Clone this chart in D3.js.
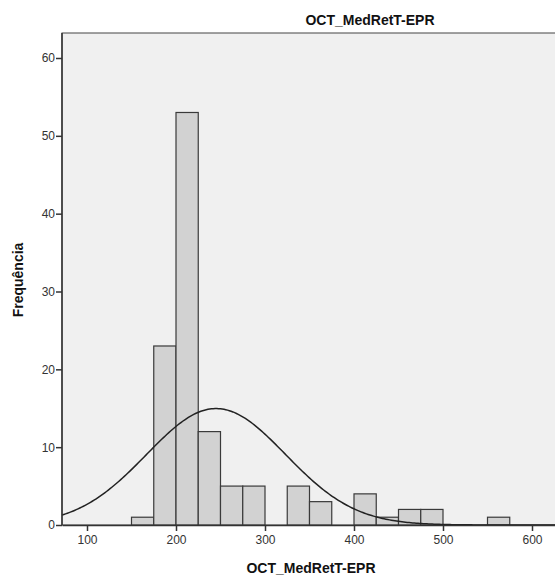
<!DOCTYPE html>
<html><head><meta charset="utf-8">
<script src="https://cdn.jsdelivr.net/npm/d3@7"></script>
<style>body{margin:0;background:#fff;}svg{display:block;font-family:Arial,"Liberation Sans",sans-serif;}</style>
</head><body>
<svg id="c" width="555" height="581"></svg>
<script>
const binStarts = [150,175,200,225,250,275,300,325,350,375,400,425,450,475,500,525,550];
const binCounts = [1,23,53,12,5,5,0,5,3,0,4,1,2,2,0,0,1];
const binWidth = 25;
const xTicks = [100,200,300,400,500,600];
const yTicks = [0,10,20,30,40,50,60];
const normalMean = 245;
const normalSD = 78;
const titleText = "OCT_MedRetT-EPR";
const xLabel = "OCT_MedRetT-EPR";
const yLabel = "Frequência";

const svg = d3.select("#c");
const L = 62, T = 33, R = 680, B = 525;
const x0 = d3.scaleLinear().domain([100,600]).range([87,532]);
const x = d3.scaleLinear().domain([x0.invert(L), x0.invert(R)]).range([L,R]);
const y = d3.scaleLinear().domain([0,60]).range([B,58]);

svg.append("rect").attr("x",L).attr("y",T).attr("width",R-L).attr("height",B-T)
  .attr("fill","#f0f0f0").attr("stroke","#444").attr("stroke-width",1);

const N = d3.sum(binCounts);
svg.append("g").selectAll("rect").data(binStarts.map((s,i)=>({s,c:binCounts[i]})).filter(d=>d.c>0))
  .join("rect")
  .attr("x",d=>x(d.s)).attr("width",d=>x(d.s+binWidth)-x(d.s))
  .attr("y",d=>y(d.c)).attr("height",d=>y(0)-y(d.c))
  .attr("fill","#d2d2d2").attr("stroke","#3a3a3a").attr("stroke-width",1.2);

const xs = d3.range(x.domain()[0], x.domain()[1], 2);
const pdf = v => N*binWidth/(normalSD*Math.sqrt(2*Math.PI))*Math.exp(-0.5*((v-normalMean)/normalSD)**2);
svg.append("path").datum(xs).attr("fill","none").attr("stroke","#222").attr("stroke-width",1.5)
  .attr("d", d3.line().x(d=>x(d)).y(d=>y(pdf(d))));

const xa = svg.append("g").attr("transform",`translate(0,${B})`)
  .call(d3.axisBottom(x).tickValues(xTicks).tickSizeInner(6).tickSizeOuter(0).tickPadding(4));
const ya = svg.append("g").attr("transform",`translate(${L},0)`)
  .call(d3.axisLeft(y).tickValues(yTicks).tickSizeInner(6).tickSizeOuter(0).tickPadding(1));
ya.select(".domain").attr("d",`M0,${T}V${B}`);
[xa,ya].forEach(a=>{
  a.select(".domain").attr("stroke","#333").attr("stroke-width",1.5);
  a.selectAll(".tick line").attr("stroke","#333").attr("stroke-width",1.5);
  a.selectAll("text").attr("font-size",12).attr("fill","#333").attr("font-family","Arial,'Liberation Sans',sans-serif");
});

svg.append("text").attr("x",370).attr("y",25).attr("text-anchor","middle")
  .attr("font-size",14).attr("font-weight","bold").attr("fill","#111").text(titleText);
svg.append("text").attr("x",311).attr("y",573).attr("text-anchor","middle")
  .attr("font-size",14).attr("font-weight","bold").attr("fill","#111").text(xLabel);
svg.append("text").attr("transform","translate(23,280) rotate(-90)").attr("text-anchor","middle")
  .attr("font-size",14).attr("font-weight","bold").attr("fill","#111").text(yLabel);
</script>
</body></html>
